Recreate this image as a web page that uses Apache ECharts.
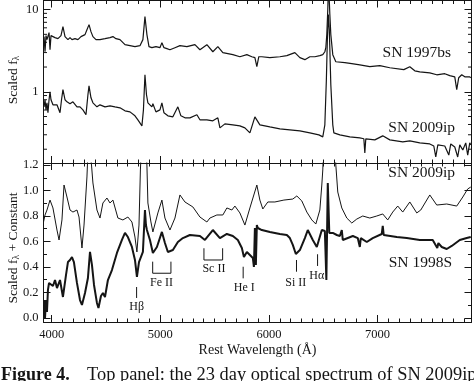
<!DOCTYPE html>
<html><head><meta charset="utf-8">
<script src="https://cdn.jsdelivr.net/npm/echarts@6/dist/echarts.min.js"></script>
<style>html,body{margin:0;padding:0;background:#fff}#c{width:474px;height:381px}</style>
</head><body><div id="c"></div>
<script>
// ---------- data ----------
// Top panel: SN 1997bs (scaled f_lambda, log axis)
const wave97bs = [3930,3939,3948,3957,3976,3985,3994,4031,4058,4086,4104,4123,4150,4169,4187,4215,4242,4270,4307,4325,4344,4362,4380,4408,4445,4491,4537,4564,4592,4629,4675,4721,4767,4813,4840,4859,4877,4896,4923,4960,4997,5015,5034,5061,5089,5135,5181,5245,5319,5365,5429,5484,5530,5576,5668,5733,5797,5843,5871,5889,5907,5935,6009,6101,6165,6239,6285,6331,6377,6423,6469,6496,6515,6524,6533,6542,6549,6561,6570,6588,6616,6699,6763,6837,6929,7021,7113,7242,7297,7343,7389,7481,7545,7619,7665,7711,7729,7747,7775,7803,7849,7858];
const flux97bs = [4.69,3.07,4.82,4.31,5.25,3.25,4.82,4.56,4.43,4.82,6.21,4.69,4.31,4.56,4.31,4.43,4.31,4.69,4.96,5.70,6.56,5.39,4.69,4.31,4.31,4.43,4.56,4.69,4.43,4.31,3.74,3.64,3.54,3.64,4.31,8.22,4.96,3.54,3.44,3.54,3.44,3.96,3.44,3.35,3.25,3.44,3.64,3.54,3.74,3.25,3.74,3.07,3.54,2.99,2.83,2.67,2.83,2.67,2.60,2.02,2.67,2.67,2.60,2.67,2.75,2.99,2.60,2.46,2.67,2.67,2.75,2.83,3.07,3.44,4.96,10.0,22.0,8.70,4.96,2.83,2.32,2.26,2.20,2.13,2.02,2.08,1.96,1.86,2.02,1.80,1.75,1.70,1.61,1.66,1.57,1.52,1.06,1.48,1.61,1.52,1.52,1.48];
// Top panel: SN 2009ip
const wave09ipTop = [3930,3939,3948,3957,3966,3976,3985,3994,4012,4049,4077,4091,4104,4123,4141,4169,4196,4233,4261,4288,4316,4334,4344,4362,4380,4417,4445,4491,4537,4583,4629,4675,4721,4767,4794,4831,4845,4859,4873,4886,4923,4932,4960,4997,5015,5034,5070,5116,5162,5190,5227,5273,5337,5365,5429,5484,5530,5549,5595,5668,5733,5779,5825,5871,5917,6009,6101,6193,6285,6377,6460,6496,6515,6529,6538,6547,6556,6570,6588,6598,6653,6745,6837,6874,6883,6892,6975,7048,7113,7232,7297,7389,7481,7518,7536,7555,7619,7656,7674,7711,7738,7757,7785,7812,7830,7849,7858];
const flux09ipTop = [0.656,0.80,0.603,0.734,0.555,0.80,1.0,0.80,0.694,0.694,0.555,0.80,1.06,0.80,0.755,0.714,0.755,0.656,0.656,0.603,0.525,0.92,1.18,0.845,0.734,0.656,0.694,0.656,0.675,0.656,0.638,0.586,0.570,0.510,0.456,0.385,0.603,1.61,0.92,0.734,0.656,0.714,0.570,0.603,0.734,0.555,0.510,0.496,0.656,0.510,0.482,0.482,0.525,0.456,0.456,0.443,0.482,0.364,0.407,0.396,0.385,0.364,0.316,0.496,0.396,0.374,0.354,0.344,0.334,0.316,0.299,0.283,0.396,1.40,4.31,8.70,5.70,1.22,0.396,0.316,0.299,0.283,0.275,0.268,0.180,0.268,0.260,0.291,0.260,0.246,0.253,0.239,0.232,0.219,0.161,0.226,0.219,0.170,0.232,0.213,0.161,0.226,0.196,0.239,0.170,0.239,0.226];
// Bottom panel: SN 2009ip (scaled f_lambda + constant)
const wave09ipBot = [3925,3939,3957,3985,4012,4049,4068,4095,4114,4141,4169,4196,4233,4252,4279,4298,4325,4339,4353,4367,4380,4417,4445,4472,4509,4537,4564,4610,4656,4702,4739,4767,4785,4804,4817,4831,4859,4877,4886,4914,4932,4978,5015,5043,5089,5135,5181,5227,5300,5365,5429,5457,5521,5576,5613,5659,5687,5733,5779,5825,5889,5917,5944,5990,6055,6138,6220,6257,6303,6349,6395,6432,6469,6487,6496,6510,6598,6616,6634,6671,6717,6763,6809,6864,6929,6993,7048,7094,7140,7186,7232,7297,7361,7398,7481,7545,7637,7729,7785,7830,7858];
const flux09ipBot = [0.753,0.808,0.847,0.925,0.863,0.690,0.612,0.769,1.043,0.949,0.847,0.831,0.847,0.792,0.549,0.729,1.106,1.40,1.40,1.20,1.059,0.847,0.784,0.902,0.941,0.902,0.925,0.784,0.769,0.792,0.753,0.635,0.518,0.729,1.161,1.45,1.45,1.20,0.902,0.753,0.675,0.824,0.925,0.784,0.690,0.784,0.965,0.910,0.871,0.792,0.753,0.784,0.808,0.808,0.863,0.847,0.878,0.824,0.729,0.863,1.043,0.925,0.855,0.910,0.910,0.925,0.933,0.957,0.918,0.831,0.769,0.737,0.847,1.043,1.161,1.50,1.50,1.20,0.988,0.863,0.784,0.745,0.776,0.800,0.784,0.800,0.816,0.769,0.831,0.878,0.831,0.910,0.824,0.847,0.965,0.886,0.894,0.878,0.949,1.012,1.027];
// Bottom panel: SN 1998S
const wave98S = [3930,3939,3948,3957,3966,3976,3985,4012,4031,4049,4077,4104,4132,4150,4169,4187,4205,4233,4261,4279,4307,4334,4353,4371,4390,4417,4431,4454,4472,4491,4518,4555,4601,4647,4675,4702,4739,4767,4785,4804,4840,4854,4859,4868,4877,4905,4932,4969,5015,5043,5070,5116,5162,5208,5273,5365,5411,5484,5549,5613,5668,5714,5751,5770,5797,5825,5852,5862,5871,5880,5889,5898,5935,6009,6101,6165,6193,6220,6248,6285,6331,6358,6404,6441,6487,6515,6529,6542,6556,6588,6625,6653,6671,6680,6773,6818,6837,6846,6901,6956,7039,7048,7057,7177,7269,7389,7508,7550,7560,7591,7637,7683,7757,7821,7858];
const flux98S = [0.141,0.0,0.141,0.047,0.220,0.275,0.275,0.251,0.298,0.235,0.298,0.165,0.337,0.439,0.455,0.478,0.439,0.275,0.141,0.102,0.196,0.314,0.518,0.416,0.259,0.118,0.078,0.173,0.196,0.165,0.298,0.376,0.510,0.612,0.667,0.635,0.557,0.455,0.322,0.439,0.518,0.518,0.847,0.729,0.690,0.612,0.510,0.557,0.675,0.588,0.518,0.533,0.596,0.627,0.651,0.643,0.612,0.690,0.627,0.659,0.643,0.612,0.549,0.478,0.518,0.494,0.471,0.400,0.706,0.416,0.729,0.706,0.690,0.675,0.659,0.651,0.627,0.573,0.502,0.533,0.627,0.690,0.612,0.557,0.690,0.682,0.298,1.059,0.667,0.667,0.651,0.643,0.690,0.612,0.643,0.627,0.557,0.627,0.596,0.627,0.659,0.722,0.651,0.635,0.627,0.612,0.612,0.549,0.588,0.557,0.541,0.565,0.612,0.627,0.635];
// Minor tick values of the log axis
const logMinorTicks = [0.2,0.3,0.4,0.5,0.6,0.7,0.8,0.9,2,3,4,5,6,7,8,9];
// Line identifications (label, wavelength range, flux range of the marker, label anchor)
const idLabels = ['Hβ','Fe II','Sc II','He I','Si II','Hα'];
const idWave1 = [4782,4930,5402,5763,6254,6448];
const idWave2 = [4782,5098,5574,5763,6254,6448];
const idTop = [0.243,0.442,0.547,0.402,0.455,0.500];
const idBot = [0.157,0.351,0.455,0.311,0.363,0.408];
const idLabelWave = [4782,5012,5494,5774,6248,6441];
const idLabelFlux = [0.086,0.277,0.382,0.233,0.275,0.329];

// ---------- chart ----------
const X_MIN = 3925, X_MAX = 7865;
const FONT = '"Liberation Serif", "Times New Roman", serif';
const INK = '#151515';
const zip = (a, b) => a.map((v, i) => [v, b[i]]);

function xAxis(grid, pos, labels) {
  return {
    type: 'value', gridIndex: grid, position: pos, min: X_MIN, max: X_MAX, splitNumber: 4,
    axisLine: { show: true, onZero: false, lineStyle: { color: INK, width: 1 } },
    axisTick: { show: true, inside: true, length: 7, lineStyle: { color: INK, width: 1 } },
    minorTick: { show: true, splitNumber: 10, length: 3.5, lineStyle: { color: INK, width: 1 } },
    axisLabel: { show: labels, showMinLabel: false, showMaxLabel: false, margin: 6,
      fontFamily: FONT, fontSize: 12.5, color: INK, formatter: v => String(Math.round(v)) },
    splitLine: { show: false },
    name: labels ? 'Rest Wavelength (Å)' : '', nameLocation: 'middle', nameGap: 21,
    nameTextStyle: { fontFamily: FONT, fontSize: 14, color: INK }
  };
}
function logY(pos, labels) {
  return {
    type: 'log', logBase: 10, gridIndex: 0, position: pos, min: 0.136, max: 12.9,
    axisLine: { show: true, onZero: false, lineStyle: { color: INK, width: 1 } },
    axisTick: { show: true, inside: true, length: 7, lineStyle: { color: INK, width: 1 } },
    minorTick: { show: false },
    axisLabel: { show: labels, showMinLabel: false, showMaxLabel: false, margin: 5,
      fontFamily: FONT, fontSize: 12.5, color: INK, formatter: v => String(Math.round(v)) },
    splitLine: { show: false }
  };
}
function linY(pos, labels) {
  return {
    type: 'value', gridIndex: 1, position: pos, min: -0.0314, max: 1.2157, splitNumber: 6,
    axisLine: { show: true, onZero: false, lineStyle: { color: INK, width: 1 } },
    axisTick: { show: true, inside: true, length: 7, lineStyle: { color: INK, width: 1 } },
    minorTick: { show: true, splitNumber: 2, length: 3.5, lineStyle: { color: INK, width: 1 } },
    axisLabel: { show: labels, showMinLabel: false, showMaxLabel: false, margin: 5,
      fontFamily: FONT, fontSize: 12.5, color: INK, formatter: v => v.toFixed(1) },
    splitLine: { show: false }
  };
}
function spec(name, xi, yi, data, w) {
  return { name, type: 'line', xAxisIndex: xi, yAxisIndex: yi, data, showSymbol: false,
    symbol: 'none', silent: true, clip: true, lineStyle: { color: INK, width: w }, z: 3 };
}

const chart = echarts.init(document.getElementById('c'), null, { renderer: 'canvas' });
const option = {
  animation: false,
  backgroundColor: '#ffffff',
  grid: [
    { left: 43.5, right: 2.5, top: 0.5, height: 162.5 },
    { left: 43.5, right: 2.5, top: 163, height: 159 }
  ],
  xAxis: [xAxis(0, 'bottom', false), xAxis(0, 'top', false), xAxis(1, 'bottom', true), xAxis(1, 'top', false)],
  yAxis: [logY('left', true), logY('right', false), linY('left', true), linY('right', false)],
  series: [
    spec('SN 1997bs', 0, 0, zip(wave97bs, flux97bs), 1.2),
    spec('SN 2009ip', 0, 0, zip(wave09ipTop, flux09ipTop), 1.2),
    spec('SN 2009ip', 2, 2, zip(wave09ipBot, flux09ipBot), 1),
    spec('SN 1998S', 2, 2, zip(wave98S, flux98S), 2),
    {
      type: 'custom', xAxisIndex: 0, yAxisIndex: 0, silent: true, z: 4,
      data: logMinorTicks.map(v => [X_MIN, v]),
      renderItem: (params, api) => {
        const v = api.value(1);
        const l = api.coord([X_MIN, v]), r = api.coord([X_MAX, v]);
        return { type: 'group', children: [
          { type: 'line', shape: { x1: l[0], y1: l[1], x2: l[0] + 3.5, y2: l[1] }, style: { stroke: INK, lineWidth: 1 } },
          { type: 'line', shape: { x1: r[0] - 3.5, y1: r[1], x2: r[0], y2: r[1] }, style: { stroke: INK, lineWidth: 1 } }
        ] };
      }
    },
    {
      type: 'custom', xAxisIndex: 2, yAxisIndex: 2, silent: true, z: 5,
      data: idLabels.map((s, i) => [idLabelWave[i], idLabelFlux[i]]),
      renderItem: (params, api) => {
        const i = params.dataIndex;
        const a = api.coord([idWave1[i], idTop[i]]);
        const b = api.coord([idWave1[i], idBot[i]]);
        const c = api.coord([idWave2[i], idBot[i]]);
        const d = api.coord([idWave2[i], idTop[i]]);
        const t = api.coord([idLabelWave[i], idLabelFlux[i]]);
        const mark = idWave1[i] === idWave2[i]
          ? { type: 'line', shape: { x1: a[0], y1: a[1], x2: b[0], y2: b[1] }, style: { stroke: INK, lineWidth: 1 } }
          : { type: 'polyline', shape: { points: [a, b, c, d] }, style: { stroke: INK, lineWidth: 1, fill: null } };
        return { type: 'group', children: [mark,
          { type: 'text', style: { text: idLabels[i], x: t[0], y: t[1], align: 'center', verticalAlign: 'middle',
            font: '12px ' + FONT, fill: INK } }] };
      }
    }
  ],
  graphic: [
    { type: 'text', x: 451, y: 53, style: { text: 'SN 1997bs', align: 'right', verticalAlign: 'middle', font: '15.5px ' + FONT, fill: INK } },
    { type: 'text', x: 455, y: 128, style: { text: 'SN 2009ip', align: 'right', verticalAlign: 'middle', font: '15.5px ' + FONT, fill: INK } },
    { type: 'text', x: 455, y: 173, style: { text: 'SN 2009ip', align: 'right', verticalAlign: 'middle', font: '15.5px ' + FONT, fill: INK } },
    { type: 'text', x: 452, y: 263, style: { text: 'SN 1998S', align: 'right', verticalAlign: 'middle', font: '15.5px ' + FONT, fill: INK } },
    { type: 'text', x: 13, y: 80, rotation: Math.PI / 2,
      style: { text: '{n|Scaled f}{s|λ}', align: 'center', verticalAlign: 'middle',
        rich: { n: { fontSize: 13.5, fontFamily: FONT, fill: INK }, s: { fontSize: 9.5, fontFamily: FONT, fill: INK, padding: [6, 0, 0, 0] } } } },
    { type: 'text', x: 13, y: 248, rotation: Math.PI / 2,
      style: { text: '{n|Scaled f}{s|λ}{n| + Constant}', align: 'center', verticalAlign: 'middle',
        rich: { n: { fontSize: 13.5, fontFamily: FONT, fill: INK }, s: { fontSize: 9.5, fontFamily: FONT, fill: INK, padding: [6, 0, 0, 0] } } } },
    { type: 'text', x: 1, y: 366, style: { text: 'Figure 4.', font: 'bold 18px ' + FONT, fill: INK, align: 'left', verticalAlign: 'top' } },
    { type: 'text', x: 87, y: 366, style: { text: 'Top panel: the 23 day optical spectrum of SN 2009ip', font: '18.4px ' + FONT, fill: INK, align: 'left', verticalAlign: 'top' } }
  ]
};
chart.setOption(option);
</script>
</body></html>
